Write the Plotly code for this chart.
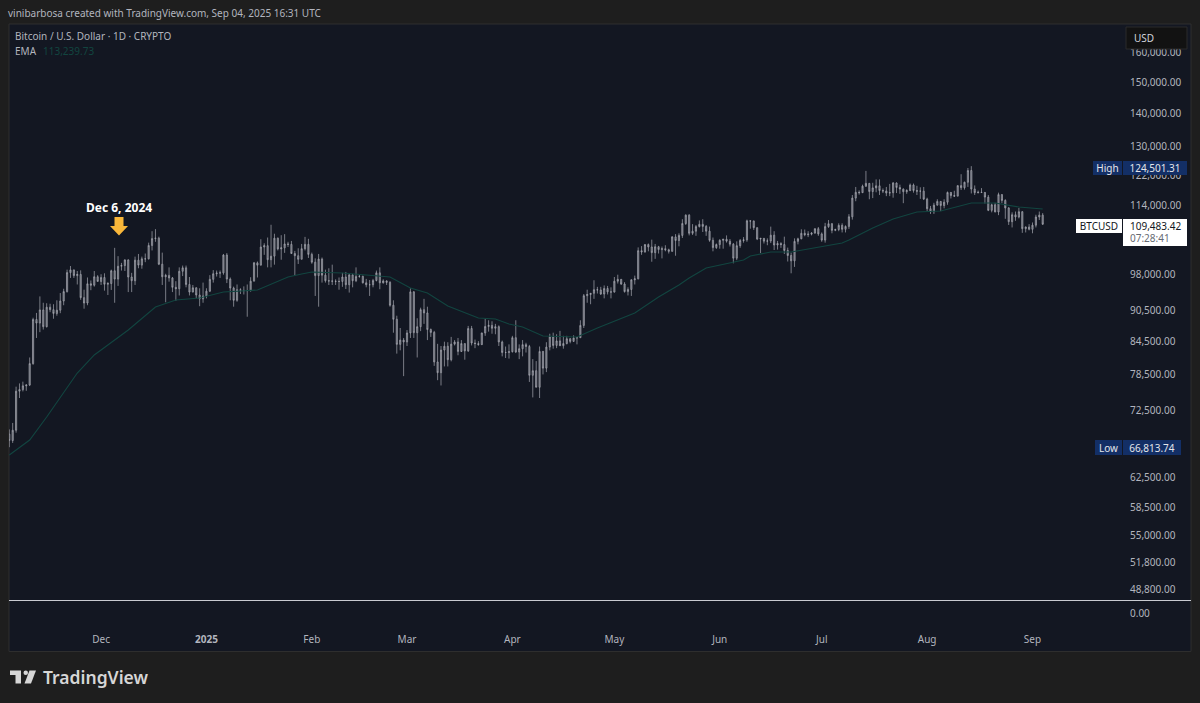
import pandas as pd
import plotly.graph_objects as go
from plotly.subplots import make_subplots

dates = pd.date_range("2024-11-04", "2025-09-04", freq="D")

opens = [
    68770, 67810, 69370, 75640, 75900, 76540, 76680, 80400, 88650, 87950, 90550, 87250, 91100, 90600, 89850, 90500, 92350, 94300, 98350, 98950, 97700, 97950, 93050, 91950, 95950, 95650, 97450,
    96450, 97300, 95850, 96000, 98750, 96950, 99750, 99900, 101150, 97400, 96600, 101100, 100000, 101400, 101400, 104450, 106050, 106150, 100200, 97450, 97750, 97200, 95200, 94900, 98650, 99400, 95800, 94200, 95100, 93600, 92800,
    93400, 94400, 96900, 98100, 98250, 98300, 102250, 96950, 95050, 92500, 94700, 94550, 94500, 94500, 96500, 100500, 99980, 104100, 104400, 101200, 102000, 106150, 103650, 103900, 104800, 104700, 102600, 102100, 101300, 103700, 104700,
    102400, 100650, 97700, 101350, 97800, 96600, 96550, 96500, 96450, 96450, 97400, 95750, 97850, 96600, 97500, 97550, 96150, 95750, 95750, 96650, 98300, 96150, 96550, 96250, 91500, 88700, 83900, 84700,
    84350, 86050, 94250, 86100, 87250, 90600, 89950, 86700, 86150, 80700, 78800, 82850, 83550, 81100, 83950, 84350, 82600, 84050, 82700, 86900, 84150, 84050, 83850, 86050, 87300, 87500, 86950, 87250, 84350, 82400, 82400,
    82550, 85150, 82500, 83100, 83850, 83500, 78350, 79150, 76300, 82600, 79600, 83400, 85300, 83700, 84550, 83650, 84050, 84950, 84450, 85100, 85150, 87500, 93450, 93700, 93950, 94700, 94650, 93800, 94950, 94250,
    94200, 96500, 96900, 95900, 94300, 94750, 96800, 97000, 103250, 102950, 104650, 104100, 102800, 104150, 103500, 103700, 103450, 103100, 106450, 105600, 106800, 109650, 111700, 107300, 107800, 108900, 109450, 108950, 107800, 105650, 103950,
    104650, 105650, 105900, 105450, 104750, 101550, 104400, 105600, 105750, 110300, 110250, 108650, 105950, 106100, 105450, 105500, 106850, 104550, 104900, 104650, 103300, 102150, 100950, 105400, 106000, 107300, 106950, 107100, 107350, 108400,
    107150, 105700, 108900, 109600, 108000, 108200, 109200, 108250, 108950, 111300, 116000, 117500, 117400, 119100, 119850, 117700, 118650, 119200, 117950, 117850, 117300, 117400, 119950, 118750, 118350, 117650, 117950, 119400, 117950, 117800, 117800,
    115750, 113300, 112550, 114200, 115150, 114100, 114950, 117450, 116650, 116500, 119250, 118700, 120150, 123300, 118350, 117400, 117500, 117450, 116250, 112900, 114300, 112500, 116900, 115400, 113500, 110100, 111800, 111250, 112550, 108400, 108800,
    108250, 109250, 111250, 111700,
]
highs = [
    69500, 70500, 76400, 76950, 77250, 76800, 81500, 89000, 89950, 93300, 92000, 91900, 91800, 91700, 92500, 94000, 94900, 99000, 99800, 99000, 98700, 98850, 94700, 97300, 96650, 98700, 97800,
    98000, 98200, 96300, 99000, 103900, 102000, 100500, 101300, 101300, 98300, 101900, 102500, 101900, 102600, 105100, 107800, 108300, 106500, 102800, 98100, 99500, 97400, 96500, 99500, 99900, 99900, 97400, 95700, 95200, 95000, 96200,
    95000, 97800, 98900, 98800, 98800, 102500, 102700, 97300, 95350, 95800, 95000, 95400, 95800, 97350, 100700, 100800, 105900, 104950, 106300, 109350, 107200, 106300, 106850, 107100, 105300, 105500, 103200, 103800, 104800, 106450, 106000,
    102800, 101500, 102500, 101700, 99000, 99300, 100100, 96900, 97300, 98300, 98500, 98100, 98100, 99500, 97950, 97700, 97000, 96750, 97000, 98800, 99500, 96900, 96700, 96500, 92500, 89400, 87000, 85100,
    86600, 95000, 94400, 88900, 91000, 92800, 91200, 86900, 86450, 84000, 83600, 84400, 84300, 85300, 84700, 85100, 84700, 84050, 87400, 87400, 84800, 84500, 86100, 88800, 88500, 88300, 87800, 87500, 84600, 83500, 83900,
    85500, 88500, 83900, 84700, 84200, 83800, 81200, 80850, 83500, 82700, 84300, 85900, 86100, 85800, 86450, 85500, 85500, 85100, 85600, 85300, 88500, 93800, 94700, 94000, 96700, 95300, 95300, 95600, 95500, 95200,
    97400, 97900, 96950, 96300, 95200, 96900, 97700, 104000, 104300, 104500, 104900, 105800, 104800, 104350, 104200, 104500, 103700, 106650, 107100, 107300, 110700, 111900, 111950, 109500, 109300, 110400, 110700, 109300, 108900, 106300, 104900,
    105900, 105950, 106800, 105950, 105000, 105400, 105950, 106400, 110600, 110400, 110400, 108600, 106200, 106200, 106100, 108900, 107800, 105500, 105200, 106500, 103950, 102800, 106100, 106250, 108250, 108200, 107800, 107550, 108500, 108800,
    107500, 109800, 110500, 109750, 108400, 109700, 109700, 109200, 111950, 116800, 118900, 118000, 119500, 123200, 119900, 120000, 120900, 120900, 118500, 118900, 119700, 120200, 120100, 119500, 118500, 118300, 119800, 119800, 119200, 118800, 118900,
    116100, 114000, 114800, 115700, 115100, 115700, 117700, 117600, 117900, 119300, 122300, 120300, 124000, 124501.31, 119300, 117950, 118600, 117600, 116800, 114600, 114800, 117400, 117000, 115700, 113700, 112400, 112600, 113500, 112700, 108950,
    109500, 109900, 111800, 112600, 112200,
]
lows = [
    66813.74, 67450, 69000, 74500, 75600, 75700, 76500, 80200, 85100, 86200, 86700, 87100, 90100, 88800, 89400, 89900, 91500, 94100, 97200, 97200, 95800, 92600, 90800, 91500, 94600, 95350, 96400,
    95700, 94500, 93600, 94650, 92000, 95500, 98800, 98700, 94200, 94200, 95700, 99300, 99200, 100650, 101250, 103300, 105300, 100000, 95700, 92100, 96400, 94200, 92400, 93500, 97600, 95200, 93500, 94150, 92900, 91300, 92000,
    92900, 94200, 96200, 97500, 97200, 97900, 96100, 92500, 91200, 92200, 93800, 93700, 89200, 94300, 96500, 97300, 99950, 102300, 99500, 99500, 100100, 103300, 101200, 102750, 104100, 102500, 97700, 100250, 101300, 103300, 101600,
    100300, 93400, 91200, 96200, 96200, 95700, 95700, 95700, 94700, 95300, 94850, 94100, 95200, 96300, 97250, 96000, 95200, 93400, 95200, 96450, 94800, 96000, 95700, 91200, 86100, 82200, 82800, 78200,
    83600, 85100, 85100, 81500, 86400, 87800, 84700, 85300, 80000, 77500, 76600, 79900, 79900, 80800, 83700, 81900, 82500, 81100, 82500, 83700, 83200, 83650, 83800, 85500, 86300, 85900, 85800, 83600, 81700, 81400, 81300,
    82400, 82300, 81200, 81700, 82400, 77200, 74600, 76300, 74500, 78500, 78900, 82800, 83100, 83200, 83600, 83100, 83900, 84100, 84400, 83900, 85100, 87000, 92000, 91700, 92800, 93900, 93600, 92900, 93700, 92900,
    94100, 96000, 95700, 94100, 93500, 93400, 95800, 96900, 102300, 102800, 103100, 100750, 101400, 102600, 101500, 103100, 102600, 103000, 102100, 104250, 106200, 109300, 106800, 106900, 106700, 108700, 107600, 106700, 105300, 103100, 103650,
    103700, 103700, 105100, 104200, 100400, 101100, 103900, 105100, 105300, 108400, 108100, 105700, 102700, 104900, 104500, 105000, 103400, 103500, 103900, 102500, 100800, 98200, 99600, 104700, 105900, 106600, 106400, 106800, 107200, 106700,
    105300, 105100, 108600, 107300, 107800, 107800, 107500, 107500, 108350, 110600, 115200, 116900, 117300, 118900, 115700, 116000, 117500, 116800, 117300, 116500, 116500, 116100, 117300, 117100, 114700, 117100, 117800, 117400, 116800, 115800, 115500,
    112700, 112000, 112000, 114100, 112700, 113400, 114300, 115900, 116300, 116500, 118100, 118200, 118900, 117200, 116800, 117200, 117300, 114600, 112700, 112400, 112400, 111700, 114700, 110800, 109300, 108700, 110300, 110900, 107400, 107500,
    108000, 107300, 108700, 110500, 109300,
]
closes = [
    67810, 69370, 75640, 75900, 76540, 76680, 80400, 88650, 87950, 90550, 87250, 91100, 90600, 89850, 90500, 92350, 94300, 98350, 98950, 97700, 97950, 93050, 91950, 95950, 95650, 97450, 96450,
    97300, 95850, 96000, 98750, 96950, 99750, 99900, 101150, 97400, 96600, 101100, 100000, 101400, 101400, 104450, 106050, 106150, 100200, 97450, 97750, 97200, 95200, 94900, 98650, 99400, 95800, 94200, 95100, 93600, 92800, 93400,
    94400, 96900, 98100, 98250, 98300, 102250, 96950, 95050, 92500, 94700, 94550, 94500, 94500, 96500, 100500, 99980, 104100, 104400, 101200, 102000, 106150, 103650, 103900, 104800, 104700, 102600, 102100, 101300, 103700, 104700, 102400,
    100650, 97700, 101350, 97800, 96600, 96550, 96500, 96450, 96450, 97400, 95750, 97850, 96600, 97500, 97550, 96150, 95750, 95750, 96650, 98300, 96150, 96550, 96250, 91500, 88700, 83900, 84700, 84350,
    86050, 94250, 86100, 87250, 90600, 89950, 86700, 86150, 80700, 78800, 82850, 83550, 81100, 83950, 84350, 82600, 84050, 82700, 86900, 84150, 84050, 83850, 86050, 87300, 87500, 86950, 87250, 84350, 82400, 82400, 82550,
    85150, 82500, 83100, 83850, 83500, 78350, 79150, 76300, 82600, 79600, 83400, 85300, 83700, 84550, 83650, 84050, 84950, 84450, 85100, 85150, 87500, 93450, 93700, 93950, 94700, 94650, 93800, 94950, 94250, 94200,
    96500, 96900, 95900, 94300, 94750, 96800, 97000, 103250, 102950, 104650, 104100, 102800, 104150, 103500, 103700, 103450, 103100, 106450, 105600, 106800, 109650, 111700, 107300, 107800, 108900, 109450, 108950, 107800, 105650, 103950, 104650,
    105650, 105900, 105450, 104750, 101550, 104400, 105600, 105750, 110300, 110250, 108650, 105950, 106100, 105450, 105500, 106850, 104550, 104900, 104650, 103300, 102150, 100950, 105400, 106000, 107300, 106950, 107100, 107350, 108400, 107150,
    105700, 108900, 109600, 108000, 108200, 109200, 108250, 108950, 111300, 116000, 117500, 117400, 119100, 119850, 117700, 118650, 119200, 117950, 117850, 117300, 117400, 119950, 118750, 118350, 117650, 117950, 119400, 117950, 117800, 117800, 115750,
    113300, 112550, 114200, 115150, 114100, 114950, 117450, 116650, 116500, 119250, 118700, 120150, 123300, 118350, 117400, 117500, 117450, 116250, 112900, 114300, 112500, 116900, 115400, 113500, 110100, 111800, 111250, 112550, 108400, 108800, 108250,
    109250, 111250, 111700, 109483.42,
]

ema_dates = [
    "2024-11-04", "2024-11-10", "2024-11-15", "2024-11-19", "2024-11-24", "2024-11-29", "2024-12-09", "2024-12-17",
    "2024-12-23", "2024-12-30", "2025-01-06", "2025-01-16", "2025-01-25", "2025-01-29", "2025-02-01", "2025-02-10",
    "2025-02-24", "2025-03-02", "2025-03-07", "2025-03-13", "2025-03-22", "2025-03-27", "2025-03-31", "2025-04-04",
    "2025-04-10", "2025-04-20", "2025-04-26", "2025-05-07", "2025-05-14", "2025-05-20", "2025-05-23", "2025-05-28",
    "2025-06-08", "2025-06-10", "2025-06-16", "2025-06-22", "2025-07-01", "2025-07-07", "2025-07-09", "2025-07-16",
    "2025-07-22", "2025-07-29", "2025-08-05", "2025-08-11", "2025-08-14", "2025-08-21", "2025-08-28", "2025-09-04",
]
ema_values = [
    65660, 67880, 71430, 74670, 78740, 81950, 86610, 91140,
    92560, 92970, 94210, 94630, 97390, 98040, 98490, 98260,
    97390, 95040, 94000, 91340, 88940, 88740, 87760, 87190,
    85470, 85270, 87000, 89930, 93170, 95690, 97180, 99360,
    101130, 102030, 102940, 102940, 104090, 105010, 105710, 108560,
    110740, 112470, 112720, 113980, 114740, 114740, 113730, 113239.73,
]

# empty lower pane, it only reads 0.00
pane_dates = ["2024-11-04", "2025-09-04"]
pane_values = [0, 0]

price_ticks = [160000, 150000, 140000, 130000, 122000, 114000, 98000, 90500, 84500, 78500, 72500, 62500, 58500, 55000, 51800, 48800]
month_ticks = ["2024-12-01", "2025-01-01", "2025-02-01", "2025-03-01", "2025-04-01", "2025-05-01", "2025-06-01", "2025-07-01", "2025-08-01", "2025-09-01"]
month_labels = ["Dec", "<b>2025</b>", "Feb", "Mar", "Apr", "May", "Jun", "Jul", "Aug", "Sep"]

PAGE_BG = "#1e1e1e"
PANEL_BG = "#131722"
TEXT = "#b2b5be"
FONT = "Noto Sans"
EMA_COLOR = "#124540"

# plot area in page pixels
LEFT, RIGHT, TOP, BOTTOM = 9, 1124, 24, 630
X_RANGE = ["2024-11-03 22:00", "2025-09-27 22:00"]


def px(x):
    return (x - LEFT) / (RIGHT - LEFT)


def py(y):
    return (BOTTOM - y) / (BOTTOM - TOP)


def path(points):
    return "M " + " L ".join(f"{px(x)} {py(y)}" for x, y in points) + " Z"


def label(x, y, text, color=TEXT, size=10, anchor="left", **font):
    fig.add_annotation(
        xref="paper", yref="paper", x=px(x), y=py(y), text=text, showarrow=False,
        xanchor=anchor, yanchor="middle", borderpad=0, borderwidth=0,
        font=dict(family=FONT, size=size, color=color, **font),
    )


def box(x, y, w, h, text, fg, bg, align="center", size=10):
    fig.add_annotation(
        xref="paper", yref="paper", x=px(x), y=py(y), text=text, showarrow=False,
        xanchor="left", yanchor="top", bgcolor=bg, width=w, height=h, align=align, valign="middle",
        borderpad=0, borderwidth=0, font=dict(family=FONT, size=size, color=fg),
    )


fig = make_subplots(rows=2, cols=1, shared_xaxes=True, vertical_spacing=0)

candle_style = dict(line=dict(color="#a6a8b0", width=0.7), fillcolor="#5f626d")
fig.add_trace(go.Candlestick(
    x=dates, open=opens, high=highs, low=lows, close=closes,
    increasing=candle_style, decreasing=candle_style, whiskerwidth=0, showlegend=False,
), row=1, col=1)
fig.add_trace(go.Scatter(
    x=ema_dates, y=ema_values, mode="lines", line=dict(color=EMA_COLOR, width=1.1), showlegend=False,
), row=1, col=1)
fig.add_trace(go.Scatter(
    x=pane_dates, y=pane_values, mode="lines", line=dict(color="rgba(0,0,0,0)", width=1), showlegend=False,
), row=2, col=1)

fig.update_layout(
    width=1200, height=703, paper_bgcolor=PAGE_BG, plot_bgcolor="rgba(0,0,0,0)",
    margin=dict(l=LEFT, r=1200 - RIGHT, t=TOP, b=703 - BOTTOM),
    font=dict(family=FONT, size=10, color=TEXT), boxgap=0.5, showlegend=False,
    xaxis=dict(
        type="date", range=X_RANGE, rangeslider=dict(visible=False),
        showgrid=False, zeroline=False, showticklabels=False, ticks="",
    ),
    xaxis2=dict(
        type="date", range=X_RANGE, rangeslider=dict(visible=False),
        tickmode="array", tickvals=month_ticks, ticktext=month_labels,
        showgrid=False, zeroline=False, ticks="", ticklabelstandoff=2, tickfont=dict(size=10, color=TEXT),
        showline=False,
    ),
    yaxis=dict(
        type="log", range=[4.6779, 5.2319], side="right", domain=[(BOTTOM - 600) / (BOTTOM - TOP), 1],
        tickmode="array", tickvals=price_ticks, ticktext=[f"{p:,.2f}" for p in price_ticks],
        showgrid=False, zeroline=False, ticks="", ticklabelstandoff=5, tickfont=dict(size=10, color=TEXT),
    ),
    yaxis2=dict(
        range=[-17, 12], side="right", domain=[0, (BOTTOM - 601) / (BOTTOM - TOP)],
        tickmode="array", tickvals=[0], ticktext=["0.00"],
        showgrid=False, zeroline=False, ticks="", ticklabelstandoff=5, tickfont=dict(size=10, color=TEXT),
    ),
)

# dark panel, pane separator, USD box
fig.add_shape(type="rect", xref="paper", yref="paper", x0=px(9), x1=px(1191), y0=py(651.5), y1=py(24),
              fillcolor=PANEL_BG, line=dict(color="#2e2e2e", width=1), layer="below")
fig.add_shape(type="line", xref="paper", yref="paper", x0=px(9), x1=px(1191), y0=py(600.5), y1=py(600.5),
              line=dict(color="#c9cbd1", width=1))
fig.add_shape(type="rect", xref="paper", yref="paper", x0=px(1126), x1=px(1187), y0=py(49), y1=py(27),
              fillcolor="#121212", line=dict(color="#2a2a2a", width=1))

# arrow for Dec 6 and the logo
fig.add_shape(type="path", xref="paper", yref="paper", fillcolor="#f9b73a", line=dict(width=0),
              path=path([(114.5, 217), (123.5, 217), (123.5, 226), (128, 226), (119, 235.5), (110, 226), (114.5, 226)]))
LOGO = "#d6d6d6"
fig.add_shape(type="path", xref="paper", yref="paper", fillcolor=LOGO, line=dict(width=0),
              path=path([(10, 670.5), (21, 670.5), (21, 683.5), (15.5, 683.5), (15.5, 675), (10, 675)]))
fig.add_shape(type="circle", xref="paper", yref="paper", fillcolor=LOGO, line=dict(width=0),
              x0=px(23.5), x1=px(28), y0=py(675), y1=py(670.5))
fig.add_shape(type="path", xref="paper", yref="paper", fillcolor=LOGO, line=dict(width=0),
              path=path([(29.5, 670.5), (36, 670.5), (31, 683.5), (24.5, 683.5)]))

# current price tag
fig.add_shape(type="rect", xref="paper", yref="paper", x0=px(1123), x1=px(1187), y0=py(246), y1=py(219),
              fillcolor="#ffffff", line=dict(width=0))

label(8, 13, "vinibarbosa created with TradingView.com, Sep 04, 2025 16:31 UTC")
label(15, 36, "Bitcoin / U.S. Dollar · 1D · CRYPTO")
label(15, 51, "EMA")
label(43, 51, "113,239.73", color=EMA_COLOR)
label(118.5, 207, "<b>Dec 6, 2024</b>", color="#ffffff", size=12, anchor="center")
label(1134, 38, "USD", color="#d1d4dc")
label(43, 677, "TradingView", color=LOGO, size=17.5, weight=600)

box(1093, 161, 29, 14, "High", "#e4e6ea", "#132f66")
box(1123, 161, 64, 14, "124,501.31", "#e4e6ea", "#132f66")
box(1095, 440, 27, 15, "Low", "#e4e6ea", "#132f66")
box(1123, 440, 58, 15, "66,813.74", "#e4e6ea", "#132f66")
box(1076, 219, 46, 14, "BTCUSD", "#131722", "#ffffff")
label(1130, 225.5, "109,483.42", color="#131722")
label(1130, 237.5, "07:28:41", color="#666a73")

fig.write_html(
    "out.html",
    config={"displayModeBar": False},
    post_script="document.body.style.margin='0';document.body.style.overflow='hidden';",
)
